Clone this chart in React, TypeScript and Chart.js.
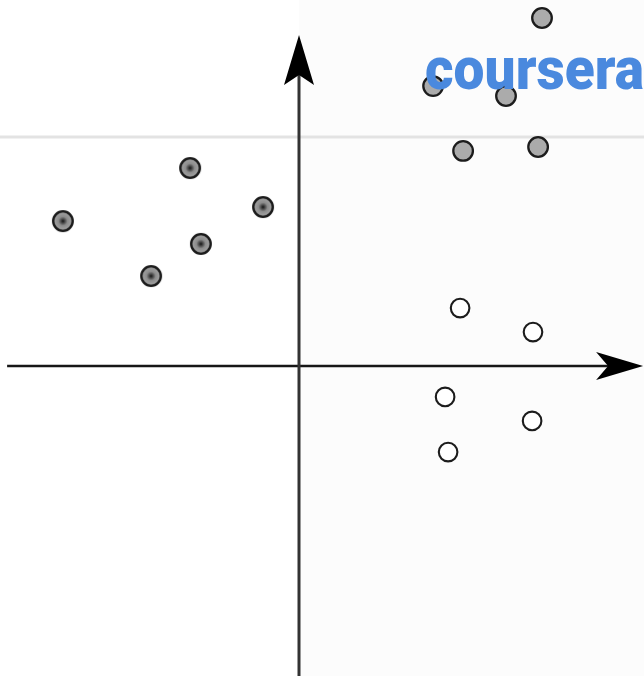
import React, { useEffect, useRef } from "react";
import { Chart, registerables } from "chart.js";

Chart.register(...registerables);

// Data (arbitrary units, origin at axes crossing)
const grayPoints = [
  { x: 8.1, y: 11.6 },
  { x: 4.47, y: 9.33 },
  { x: 6.9, y: 9.0 },
  { x: 5.47, y: 7.17 },
  { x: 7.97, y: 7.3 },
];
const dottedPoints = [
  { x: -7.87, y: 4.83 },
  { x: -3.63, y: 6.6 },
  { x: -1.2, y: 5.3 },
  { x: -3.27, y: 4.07 },
  { x: -4.93, y: 3.0 },
];
const whitePoints = [
  { x: 5.37, y: 1.93 },
  { x: 7.8, y: 1.13 },
  { x: 4.87, y: -1.03 },
  { x: 7.77, y: -1.83 },
  { x: 4.97, y: -2.87 },
];
const xRange = [-9.967, 11.5];
const yRange = [-10.333, 12.2];
const xAxisSpan = [-9.73, 11.47];
const yAxisTop = 11.03;
const refLineY = 7.63;
const logoText = "coursera";

function makeDottedImage(): HTMLCanvasElement {
  const c = document.createElement("canvas");
  c.width = 26;
  c.height = 26;
  const ctx = c.getContext("2d")!;
  const g = ctx.createRadialGradient(13, 13, 0, 13, 13, 10);
  g.addColorStop(0, "#151515");
  g.addColorStop(0.18, "#444");
  g.addColorStop(0.45, "#8c8c8c");
  g.addColorStop(0.75, "#9c9c9c");
  g.addColorStop(1, "#6a6a6a");
  ctx.beginPath();
  ctx.arc(13, 13, 9.8, 0, Math.PI * 2);
  ctx.fillStyle = g;
  ctx.fill();
  ctx.lineWidth = 2.3;
  ctx.strokeStyle = "#1a1a1a";
  ctx.stroke();
  return c;
}

const decorPlugin = {
  id: "decor",
  beforeDatasetsDraw(chart: any) {
    const ctx = chart.ctx as CanvasRenderingContext2D;
    const xs = chart.scales.x;
    const ys = chart.scales.y;
    const x0 = xs.getPixelForValue(0);
    const y0 = ys.getPixelForValue(0);
    const W = chart.width;
    const H = chart.height;
    ctx.save();
    // faint background right of axis
    ctx.fillStyle = "#fcfcfc";
    ctx.fillRect(x0, 0, W - x0, H);
    // reference line
    const ry = ys.getPixelForValue(refLineY);
    ctx.strokeStyle = "#e3e3e3";
    ctx.lineWidth = 3;
    ctx.beginPath();
    ctx.moveTo(0, ry);
    ctx.lineTo(W, ry);
    ctx.stroke();
    // horizontal axis
    const xs0 = xs.getPixelForValue(xAxisSpan[0]);
    const xTip = xs.getPixelForValue(xAxisSpan[1]);
    ctx.strokeStyle = "#161616";
    ctx.lineWidth = 2.6;
    ctx.beginPath();
    ctx.moveTo(xs0, y0);
    ctx.lineTo(xTip - 30, y0);
    ctx.stroke();
    ctx.fillStyle = "#000";
    ctx.beginPath();
    ctx.moveTo(xTip, y0);
    ctx.lineTo(xTip - 47, y0 - 14);
    ctx.lineTo(xTip - 35, y0);
    ctx.lineTo(xTip - 47, y0 + 14);
    ctx.closePath();
    ctx.fill();
    // vertical axis
    const yTip = ys.getPixelForValue(yAxisTop);
    ctx.strokeStyle = "#333";
    ctx.lineWidth = 3;
    ctx.beginPath();
    ctx.moveTo(x0, H);
    ctx.lineTo(x0, yTip + 30);
    ctx.stroke();
    ctx.beginPath();
    ctx.moveTo(x0, yTip);
    ctx.lineTo(x0 - 15, yTip + 50);
    ctx.lineTo(x0, yTip + 40);
    ctx.lineTo(x0 + 15, yTip + 50);
    ctx.closePath();
    ctx.fill();
    ctx.restore();
  },
  afterDatasetsDraw(chart: any) {
    const ctx = chart.ctx as CanvasRenderingContext2D;
    ctx.save();
    ctx.fillStyle = "#4a89de";
    ctx.font = "900 60px Roboto";
    ctx.textBaseline = "alphabetic";
    ctx.textAlign = "left";
    ctx.fillText(logoText, 425, 89, 219);
    ctx.restore();
  },
};

export default function App() {
  const ref = useRef<HTMLCanvasElement>(null);
  useEffect(() => {
    if (!ref.current) return;
    const dotted = makeDottedImage();
    const chart = new Chart(ref.current, {
      type: "scatter",
      data: {
        datasets: [
          {
            data: grayPoints,
            pointRadius: 9.8,
            pointBackgroundColor: "#ababab",
            pointBorderColor: "#1c1c1c",
            pointBorderWidth: 2.3,
            clip: false as any,
          },
          {
            data: dottedPoints,
            pointStyle: dotted as any,
            pointRadius: 11,
            clip: false as any,
          },
          {
            data: whitePoints,
            pointRadius: 9.3,
            pointBackgroundColor: "#ffffff",
            pointBorderColor: "#1c1c1c",
            pointBorderWidth: 2.1,
            clip: false as any,
          },
        ],
      },
      options: {
        animation: false,
        responsive: false,
        layout: { padding: 0, autoPadding: false },
        plugins: { legend: { display: false }, tooltip: { enabled: false } },
        events: [],
        scales: {
          x: { type: "linear", min: xRange[0], max: xRange[1], display: false },
          y: { type: "linear", min: yRange[0], max: yRange[1], display: false },
        },
      },
      plugins: [decorPlugin],
    });
    return () => chart.destroy();
  }, []);
  return (
    <div style={{ position: "absolute", left: 0, top: 0, width: 644, height: 676, background: "#fff" }}>
      <canvas ref={ref} width={644} height={676} style={{ display: "block" }} />
    </div>
  );
}
